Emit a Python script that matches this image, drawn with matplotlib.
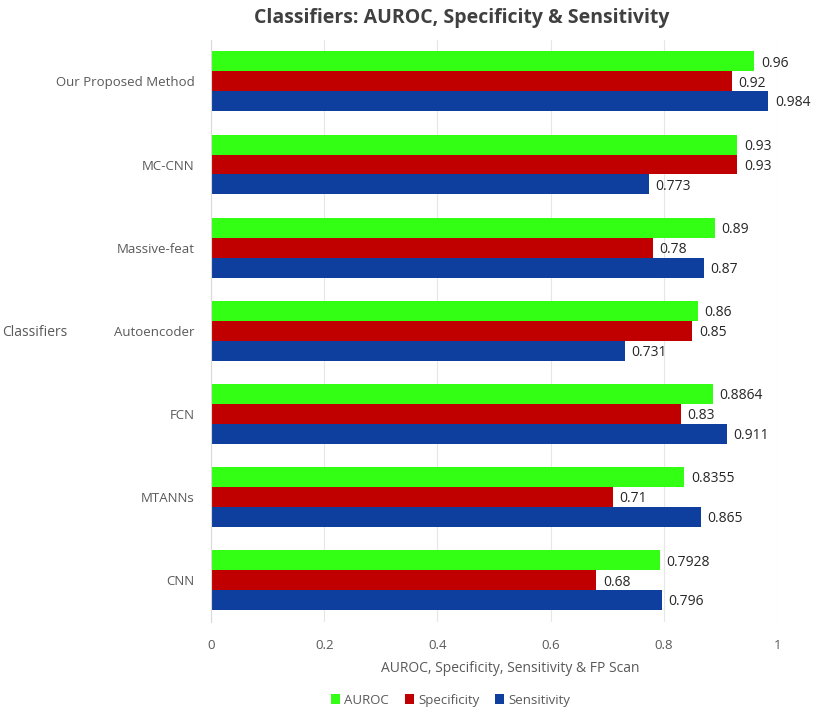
import matplotlib.pyplot as plt
import numpy as np

# Data (top to bottom as drawn)
classifiers = ['Our Proposed Method', 'MC-CNN', 'Massive-feat', 'Autoencoder',
               'FCN', 'MTANNs', 'CNN']
auroc = [0.96, 0.93, 0.89, 0.86, 0.8864, 0.8355, 0.7928]
specificity = [0.92, 0.93, 0.78, 0.85, 0.83, 0.71, 0.68]
sensitivity = [0.984, 0.773, 0.87, 0.731, 0.911, 0.865, 0.796]
auroc_lbl = ['0.96', '0.93', '0.89', '0.86', '0.8864', '0.8355', '0.7928']
spec_lbl = ['0.92', '0.93', '0.78', '0.85', '0.83', '0.71', '0.68']
sens_lbl = ['0.984', '0.773', '0.87', '0.731', '0.911', '0.865', '0.796']

plt.rcParams['font.family'] = ['Open Sans', 'DejaVu Sans']

grey = '#595959'
fig = plt.figure(figsize=(8.15, 7.1), dpi=100)
ax = fig.add_axes([0.259, 0.124, 0.6945, 0.82])

y = np.arange(len(classifiers))
h = 0.24
series = [
    (auroc, auroc_lbl, '#33FF14', 'AUROC', -h),
    (specificity, spec_lbl, '#C00000', 'Specificity', 0),
    (sensitivity, sens_lbl, '#0E3F9E', 'Sensitivity', h),
]
for vals, lbls, col, name, off in series:
    bars = ax.barh(y + off, vals, height=h, color=col, label=name)
    for b, t in zip(bars, lbls):
        ax.text(b.get_width() + 0.012, b.get_y() + b.get_height() / 2 + 0.02, t,
                va='center', ha='left', fontsize=10, color='#262626')

ax.set_ylim(len(classifiers) - 0.5, -0.5)
ax.set_xlim(0, 1)
ax.set_xticks([0, 0.2, 0.4, 0.6, 0.8, 1])
ax.set_xticklabels(['0', '0.2', '0.4', '0.6', '0.8', '1'])
ax.set_yticks(y)
ax.set_yticklabels(classifiers)
ax.tick_params(axis='both', length=0, colors=grey, labelsize=9.5)
ax.tick_params(axis='y', pad=12)
ax.tick_params(axis='x', pad=12)
ax.grid(axis='x', color='#E6E6E6', linewidth=0.8)
ax.set_axisbelow(True)
for s in ['top', 'right', 'bottom']:
    ax.spines[s].set_visible(False)
ax.spines['left'].set_color('#D9D9D9')

fig.text(0.567, 0.975, 'Classifiers: AUROC, Specificity & Sensitivity',
         ha='center', va='center', fontsize=14, fontweight='bold', color='#404040')
fig.text(0.626, 0.059, 'AUROC, Specificity, Sensitivity & FP Scan',
         ha='center', va='center', fontsize=10, color=grey)
fig.text(0.002, 0.531, 'Classifiers', ha='left', va='center', fontsize=10, color=grey)

leg = fig.legend(loc='center', bbox_to_anchor=(0.553, 0.014), ncol=3, frameon=False,
                 fontsize=9.5, handlelength=0.7, handleheight=0.7, handletextpad=0.3,
                 columnspacing=1.2)
for t in leg.get_texts():
    t.set_color(grey)

fig.savefig('out.png', dpi=100)
